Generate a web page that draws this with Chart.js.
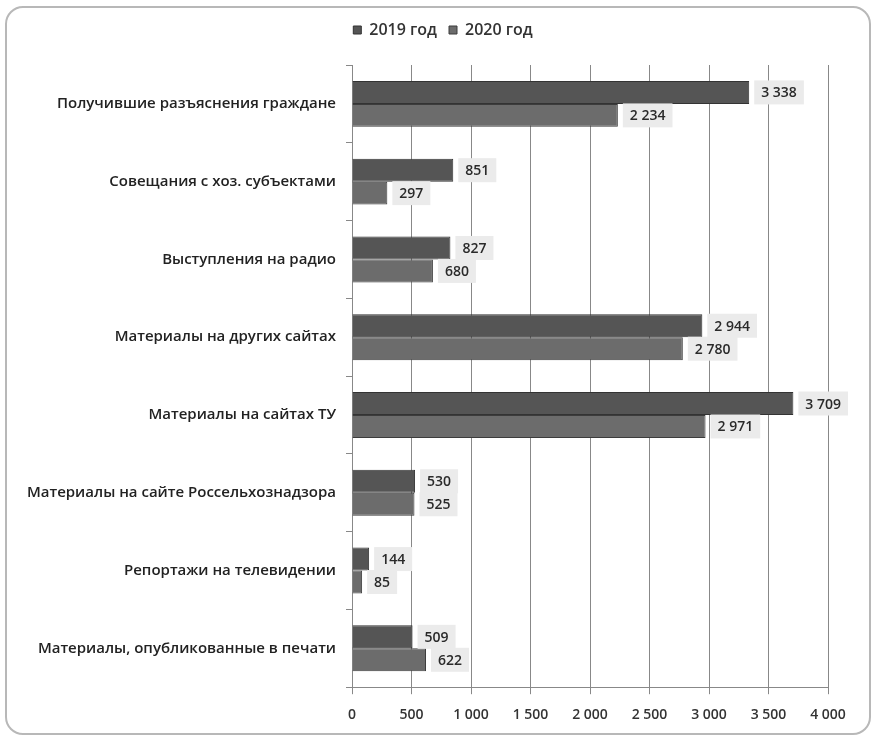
<!DOCTYPE html>
<html>
<head>
<meta charset="utf-8">
<script src="https://cdn.jsdelivr.net/npm/chart.js@4/dist/chart.umd.min.js"></script>
<style>
  html, body { margin: 0; padding: 0; background: #fff; }
  #frame {
    position: absolute; left: 5px; top: 6px; width: 862px; height: 725px;
    border: 2px solid #b8b8b8; border-radius: 18px;
  }
  #wrap { position: absolute; left: 0; top: 0; width: 878px; height: 741px; }
</style>
</head>
<body>
<div id="frame"></div>
<div id="wrap"><canvas id="chart" width="878" height="741"></canvas></div>
<script>
// данные
const categories = [
    'Получившие разъяснения граждане',
    'Совещания с хоз. субъектами',
    'Выступления на радио',
    'Материалы на других сайтах',
    'Материалы на сайтах ТУ',
    'Материалы на сайте Россельхознадзора',
    'Репортажи на телевидении',
    'Материалы, опубликованные в печати'
];
const values2019 = [3338, 851, 827, 2944, 3709, 530, 144, 509];
const values2020 = [2234, 297, 680, 2780, 2971, 525, 85, 622];
const seriesNames = ['2019 год', '2020 год'];

const FONT = '"Open Sans", "Noto Sans", sans-serif';

function fmt(v) {
    return String(v).replace(/\B(?=(\d{3})+(?!\d))/g, ' ');
}

// подписи значений в серых плашках
const valueLabels = {
    id: 'valueLabels',
    afterDatasetsDraw(chart) {
        const ctx = chart.ctx;
        ctx.save();
        ctx.font = '600 14px ' + FONT;
        ctx.textBaseline = 'middle';
        chart.data.datasets.forEach((ds, i) => {
            const meta = chart.getDatasetMeta(i);
            meta.data.forEach((bar, j) => {
                const txt = fmt(ds.data[j]);
                const w = ctx.measureText(txt).width;
                const x = bar.x + 5;
                const y = bar.y;
                ctx.fillStyle = '#ebebeb';
                ctx.fillRect(x, y - 12, w + 14, 24);
                ctx.fillStyle = '#2a2a2a';
                ctx.fillText(txt, x + 7, y + 1);
            });
        });
        ctx.restore();
    }
};

// отступ под легендой и сдвиг легенды вправо
const legendGap = {
    id: 'legendGap',
    beforeInit(chart) {
        const fit = chart.legend.fit;
        chart.legend.fit = function () {
            fit.call(this);
            this.height += 17;
        };
    },
    afterLayout(chart) {
        chart.legend.left += 29;
        chart.legend.right += 29;
    }
};

new Chart(document.getElementById('chart'), {
    type: 'bar',
    data: {
        labels: categories,
        datasets: [{
            label: seriesNames[0],
            data: values2019,
            backgroundColor: '#555555',
            borderColor: '#333333',
            borderWidth: 1,
            categoryPercentage: 0.59,
            barPercentage: 1
        }, {
            label: seriesNames[1],
            data: values2020,
            backgroundColor: '#6c6c6c',
            borderColor: '#3c3c3c',
            borderWidth: 1,
            categoryPercentage: 0.59,
            barPercentage: 1
        }]
    },
    options: {
        indexAxis: 'y',
        responsive: false,
        animation: false,
        layout: { padding: { top: 10, right: 50, bottom: 6, left: 0 } },
        plugins: {
            legend: {
                position: 'top',
                labels: {
                    font: { family: FONT, size: 16, weight: '600' },
                    color: '#333',
                    boxWidth: 8,
                    boxHeight: 8,
                    padding: 12
                }
            },
            tooltip: { enabled: false }
        },
        scales: {
            x: {
                min: 0,
                max: 4000,
                ticks: {
                    stepSize: 500,
                    color: '#333',
                    font: { family: FONT, size: 14, weight: '600' },
                    padding: 12,
                    callback: v => fmt(v)
                },
                grid: { color: '#888888', lineWidth: 1, tickLength: 7 },
                border: { color: '#888888' }
            },
            y: {
                afterFit: s => { s.width = 352; },
                ticks: {
                    color: '#222',
                    font: { family: FONT, size: 15, weight: '600' },
                    padding: 10
                },
                grid: { drawOnChartArea: false, tickLength: 6, color: '#888888' },
                border: { color: '#888888' }
            }
        }
    },
    plugins: [valueLabels, legendGap]
});
</script>
</body>
</html>
